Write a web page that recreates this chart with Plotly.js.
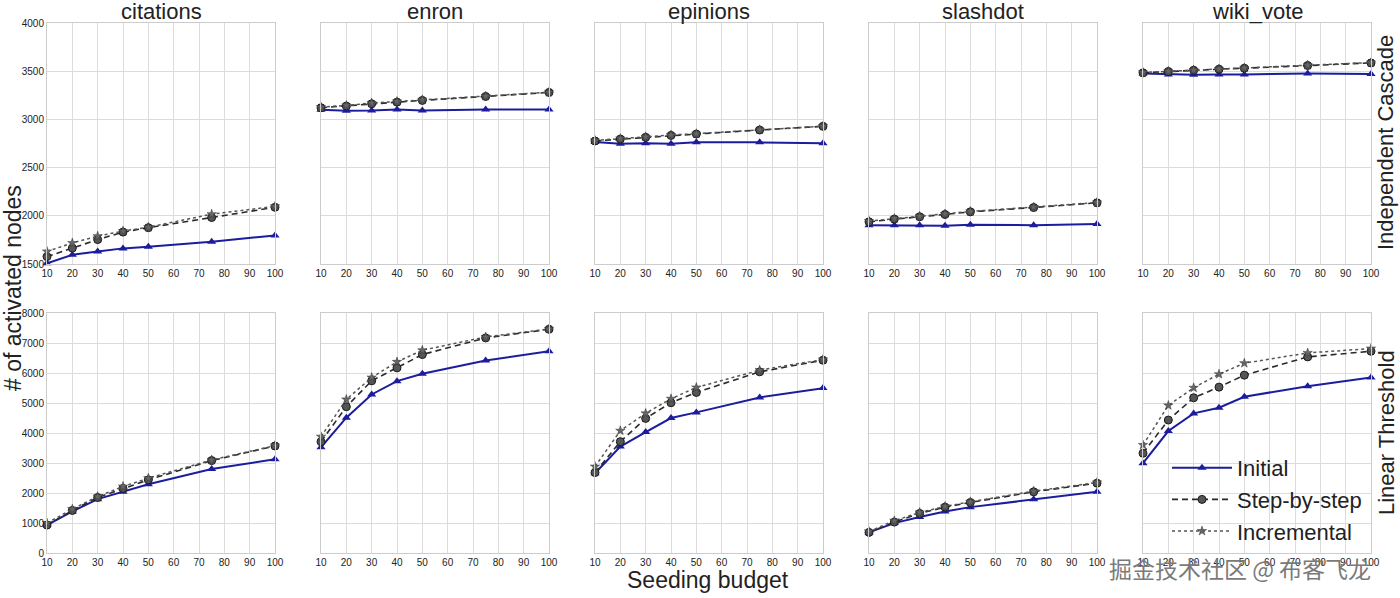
<!DOCTYPE html>
<html>
<head>
<meta charset="utf-8">
<script src="https://cdn.plot.ly/plotly-3.0.1.min.js"></script>
<style>html,body{margin:0;padding:0;background:#fff}#chart{width:1400px;height:598px}</style>
</head>
<body>
<div id="chart"></div>
<script>
// ---------- data ----------
const budget = [10, 20, 30, 40, 50, 75, 100];
const datasets = ["citations", "enron", "epinions", "slashdot", "wiki_vote"];
const models = ["Independent Cascade", "Linear Threshold"];
const seriesNames = ["Initial", "Step-by-step", "Incremental"];

// Independent Cascade
const citations_ic_initial = [1507, 1595, 1630, 1662, 1680, 1732, 1796];
const citations_ic_step    = [1577, 1665, 1753, 1831, 1877, 1982, 2088];
const citations_ic_incr    = [1630, 1718, 1789, 1841, 1882, 2017, 2098];
const enron_ic_initial     = [3100, 3090, 3093, 3103, 3093, 3103, 3103];
const enron_ic_step        = [3121, 3138, 3162, 3179, 3197, 3238, 3280];
const enron_ic_incr        = [3128, 3145, 3170, 3186, 3204, 3242, 3282];
const epinions_ic_initial  = [2765, 2748, 2752, 2748, 2762, 2762, 2752];
const epinions_ic_step     = [2776, 2796, 2814, 2834, 2848, 2890, 2928];
const epinions_ic_incr     = [2782, 2802, 2820, 2838, 2852, 2893, 2930];
const slashdot_ic_initial  = [1903, 1903, 1903, 1897, 1907, 1903, 1914];
const slashdot_ic_step     = [1938, 1966, 1990, 2014, 2041, 2086, 2135];
const slashdot_ic_incr     = [1945, 1972, 1996, 2020, 2045, 2090, 2138];
const wiki_ic_initial      = [3476, 3466, 3462, 3466, 3466, 3476, 3472];
const wiki_ic_step         = [3483, 3497, 3510, 3521, 3531, 3559, 3586];
const wiki_ic_incr         = [3487, 3500, 3513, 3524, 3534, 3562, 3589];

// Linear Threshold
const citations_lt_initial = [931, 1385, 1795, 2039, 2294, 2803, 3125];
const citations_lt_step    = [930, 1418, 1850, 2150, 2438, 3080, 3568];
const citations_lt_incr    = [997, 1463, 1884, 2216, 2493, 3102, 3579];
const enron_lt_initial     = [3523, 4510, 5285, 5728, 5972, 6415, 6725];
const enron_lt_step        = [3712, 4875, 5739, 6171, 6615, 7169, 7457];
const enron_lt_incr        = [3878, 5119, 5850, 6371, 6759, 7202, 7468];
const epinions_lt_initial  = [2659, 3546, 4033, 4499, 4687, 5185, 5496];
const epinions_lt_step     = [2681, 3712, 4487, 5008, 5352, 6039, 6426];
const epinions_lt_incr     = [2881, 4077, 4654, 5141, 5518, 6094, 6448];
const slashdot_lt_initial  = [687, 997, 1197, 1385, 1529, 1795, 2039];
const slashdot_lt_step     = [687, 1030, 1318, 1529, 1684, 2039, 2327];
const slashdot_lt_incr     = [720, 1075, 1352, 1551, 1706, 2061, 2349];
const wiki_lt_initial      = [2992, 4066, 4654, 4842, 5208, 5562, 5850];
const wiki_lt_step         = [3324, 4432, 5174, 5529, 5928, 6537, 6725];
const wiki_lt_incr         = [3601, 4920, 5507, 5961, 6327, 6670, 6814];

const xTicks = [10, 20, 30, 40, 50, 60, 70, 80, 90, 100];
const icTicks = [1500, 2000, 2500, 3000, 3500, 4000];
const ltTicks = [0, 1000, 2000, 3000, 4000, 5000, 6000, 7000, 8000];

const grid = [
  [[citations_ic_initial, citations_ic_step, citations_ic_incr],
   [enron_ic_initial, enron_ic_step, enron_ic_incr],
   [epinions_ic_initial, epinions_ic_step, epinions_ic_incr],
   [slashdot_ic_initial, slashdot_ic_step, slashdot_ic_incr],
   [wiki_ic_initial, wiki_ic_step, wiki_ic_incr]],
  [[citations_lt_initial, citations_lt_step, citations_lt_incr],
   [enron_lt_initial, enron_lt_step, enron_lt_incr],
   [epinions_lt_initial, epinions_lt_step, epinions_lt_incr],
   [slashdot_lt_initial, slashdot_lt_step, slashdot_lt_incr],
   [wiki_lt_initial, wiki_lt_step, wiki_lt_incr]]
];

// ---------- styles ----------
const W = 1400, H = 598;
const colPx = [[47, 275], [321, 549], [595, 823], [869, 1097], [1143, 1371]];
const rowPx = [[23, 264], [313, 553]];
const styles = [
  {line: {color: '#1c1c9e', width: 2, dash: 'solid'},
   marker: {symbol: 'triangle-up', size: 8, color: '#1c1c9e', line: {color: '#1c1c9e', width: 0}}},
  {line: {color: '#2a2a2a', width: 1.6, dash: '6px,4px'},
   marker: {symbol: 'circle', size: 8, color: '#555555', line: {color: '#1a1a1a', width: 1}}},
  {line: {color: '#555555', width: 1.5, dash: 'dot'},
   marker: {symbol: 'star', size: 7, color: '#666666', line: {color: '#333333', width: 0.5}}}
];
const font = 'Arial, "Liberation Sans", sans-serif';

const traces = [];
const layout = {
  width: W, height: H,
  margin: {l: 0, r: 0, t: 0, b: 0},
  paper_bgcolor: '#ffffff', plot_bgcolor: '#ffffff',
  font: {family: font, color: '#222222'},
  showlegend: true,
  legend: {
    x: 1167 / W, y: 1 - 447 / H, xanchor: 'left', yanchor: 'top',
    bgcolor: 'rgba(255,255,255,0)', borderwidth: 0,
    font: {size: 22, color: '#222222', family: font},
    tracegroupgap: 0, itemwidth: 60
  },
  annotations: []
};

for (let r = 0; r < 2; r++) {
  for (let c = 0; c < 5; c++) {
    const idx = r * 5 + c + 1;
    const xa = 'xaxis' + (idx === 1 ? '' : idx);
    const ya = 'yaxis' + (idx === 1 ? '' : idx);
    const xr = 'x' + (idx === 1 ? '' : idx);
    const yr = 'y' + (idx === 1 ? '' : idx);
    layout[xa] = {
      domain: [colPx[c][0] / W, colPx[c][1] / W], anchor: yr,
      range: [10, 100], tickvals: xTicks, ticktext: xTicks.map(String),
      showgrid: true, gridcolor: '#dcdcdc', gridwidth: 1,
      showline: true, linecolor: '#cccccc', linewidth: 1, mirror: true,
      zeroline: false, ticks: '', ticklen: 0,
      tickfont: {size: 10, color: '#222222', family: font}
    };
    const ticks = r === 0 ? icTicks : ltTicks;
    layout[ya] = {
      domain: [1 - rowPx[r][1] / H, 1 - rowPx[r][0] / H], anchor: xr,
      range: r === 0 ? [1500, 4000] : [0, 8000],
      tickvals: ticks, ticktext: ticks.map(String),
      showticklabels: c === 0,
      showgrid: true, gridcolor: '#dcdcdc', gridwidth: 1,
      showline: true, linecolor: '#cccccc', linewidth: 1, mirror: true,
      zeroline: false, ticks: '', ticklen: 0,
      tickfont: {size: 10, color: '#222222', family: font}
    };
    const series = grid[r][c];
    for (let s = 0; s < 3; s++) {
      traces.push({
        type: 'scatter', mode: 'lines+markers',
        x: budget, y: series[s], xaxis: xr, yaxis: yr,
        name: seriesNames[s], legendgroup: seriesNames[s],
        showlegend: idx === 10,
        line: styles[s].line, marker: styles[s].marker,
        cliponaxis: false
      });
    }
  }
}

// column titles
datasets.forEach((d, c) => {
  layout.annotations.push({
    text: d, xref: 'paper', yref: 'paper',
    x: (colPx[c][0] + colPx[c][1]) / 2 / W, y: 1 - 12 / H,
    xanchor: 'center', yanchor: 'middle', showarrow: false,
    font: {size: 22, color: '#222222', family: font}
  });
});
// row labels
const rowCenters = [143, 433];
models.forEach((m, r) => {
  layout.annotations.push({
    text: m, xref: 'paper', yref: 'paper',
    x: 1386 / W, y: 1 - rowCenters[r] / H, textangle: -90,
    xanchor: 'center', yanchor: 'middle', showarrow: false,
    font: {size: 22, color: '#222222', family: font}
  });
});
// axis labels
layout.annotations.push({
  text: '# of activated nodes', xref: 'paper', yref: 'paper',
  x: 13 / W, y: 1 - 288 / H, textangle: -90,
  xanchor: 'center', yanchor: 'middle', showarrow: false,
  font: {size: 23, color: '#222222', family: font}
});
layout.annotations.push({
  text: 'Seeding budget', xref: 'paper', yref: 'paper',
  x: 708 / W, y: 1 - 580 / H,
  xanchor: 'center', yanchor: 'middle', showarrow: false,
  font: {size: 23, color: '#222222', family: font}
});
// watermark
layout.annotations.push({
  text: '掘金技术社区 @ 布客飞龙', xref: 'paper', yref: 'paper',
  x: 1240 / W, y: 1 - 568 / H,
  xanchor: 'center', yanchor: 'middle', showarrow: false,
  font: {size: 23, color: '#7a7a7a', family: '"Noto Sans CJK SC", sans-serif'}
});

Plotly.newPlot('chart', traces, layout, {displayModeBar: false, staticPlot: true});
</script>
</body>
</html>
